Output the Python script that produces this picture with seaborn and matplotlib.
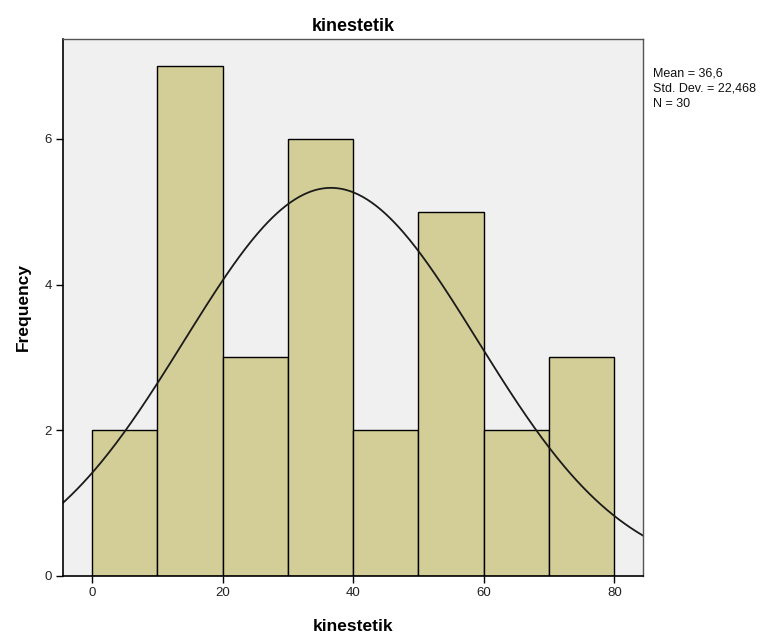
import numpy as np
import pandas as pd
import matplotlib
matplotlib.use("Agg")
import matplotlib.pyplot as plt
import seaborn as sns

# Binned scores for "kinestetik"
bin_edges = [0, 10, 20, 30, 40, 50, 60, 70, 80]
bin_mids = [5, 15, 25, 35, 45, 55, 65, 75]
counts = [2, 7, 3, 6, 2, 5, 2, 3]
mean_val = 36.6
std_val = 22.468
n_obs = 30
y_ticks = [0, 2, 4, 6]
x_ticks = [0, 20, 40, 60, 80]

sns.set_style("white")
plt.rcParams["font.family"] = ["Liberation Sans", "DejaVu Sans"]
plt.rcParams["text.color"] = "black"
plt.rcParams["axes.labelcolor"] = "black"


def comma_num(value, digits):
    """Format a number with a decimal comma."""
    return f"{value:.{digits}f}".replace(".", ",")


fig = plt.figure(figsize=(7.8, 6.34), dpi=100)
ax = fig.add_axes([0.0808, 0.0915, 0.8244 - 0.0808, 0.9385 - 0.0915])
ax.set_facecolor("#F0F0F0")

df = pd.DataFrame({"kinestetik": bin_mids, "n": counts})
sns.histplot(data=df, x="kinestetik", weights="n", bins=bin_edges,
             color="#D3CE97", edgecolor="black", linewidth=1.0, alpha=1.0, ax=ax)

# Fitted normal curve scaled to counts per bin width
xs = np.linspace(-6, 86, 400)
width = bin_edges[1] - bin_edges[0]
ys = n_obs * width / (std_val * np.sqrt(2 * np.pi)) * np.exp(-0.5 * ((xs - mean_val) / std_val) ** 2)
sns.lineplot(x=xs, y=ys, color="#1a1a1a", linewidth=1.3, ax=ax)

ax.set_xlim(-4.44, 84.4)
ax.set_ylim(0, 7.37)
ax.set_xticks(x_ticks)
ax.set_yticks(y_ticks)
ax.tick_params(axis="both", direction="out", length=5, width=1, color="black",
               labelsize=9.5, labelcolor="#222222", pad=3, bottom=True, left=True)

for side in ["left", "bottom"]:
    ax.spines[side].set_color("black")
    ax.spines[side].set_linewidth(1.2)
for side in ["top", "right"]:
    ax.spines[side].set_color("#555555")
    ax.spines[side].set_linewidth(1.0)

ax.set_title("kinestetik", fontsize=13, fontweight="bold", pad=6, color="black")
ax.set_xlabel("kinestetik", fontsize=12.5, fontweight="bold", labelpad=14)
ax.set_ylabel("Frequency", fontsize=12.5, fontweight="bold", labelpad=10)

stats_text = (f"Mean = {comma_num(mean_val, 1)}\n"
              f"Std. Dev. = {comma_num(std_val, 3)}\n"
              f"N = {n_obs}")
fig.text(653 / 780, 1 - 67 / 634, stats_text,
         fontsize=9, va="top", ha="left", linespacing=1.38, color="#111111")

fig.savefig("out.png", dpi=100)
